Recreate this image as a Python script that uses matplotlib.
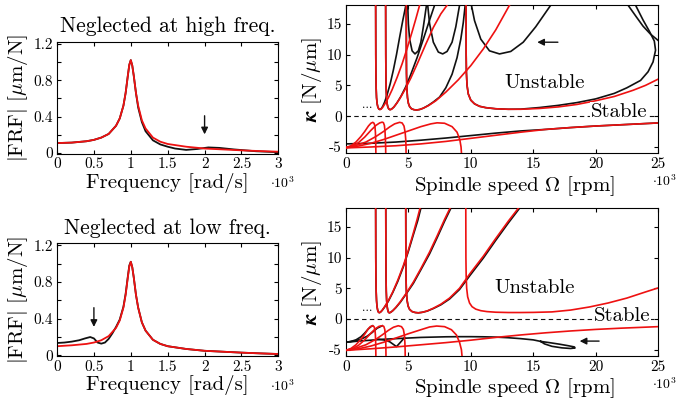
import numpy as np
import matplotlib
matplotlib.use('Agg')
import matplotlib.pyplot as plt

plt.rcParams['font.family'] = ['cmr10', 'DejaVu Serif']
plt.rcParams['mathtext.fontset'] = 'cm'
plt.rcParams['axes.unicode_minus'] = False
plt.rcParams['axes.formatter.use_mathtext'] = True

RED = '#ee1111'
BLK = '#111111'

# ---------------- FRF data (frequency in 1e3 rad/s, |FRF| in um/N) ----------------
frf_w = [0, 0.2, 0.4, 0.5, 0.6, 0.7, 0.8, 0.85, 0.9, 0.93, 0.96, 0.98, 1.0, 1.02,
         1.04, 1.07, 1.1, 1.15, 1.2, 1.3, 1.4, 1.5, 1.75, 2.0, 2.25, 2.5, 2.75, 3.0]
frf_hi_red = [0.11, 0.115, 0.13, 0.145, 0.17, 0.21, 0.30, 0.38, 0.52, 0.66, 0.85, 0.97,
              1.02, 0.96, 0.85, 0.66, 0.52, 0.36, 0.27, 0.17, 0.125, 0.10, 0.07, 0.05,
              0.04, 0.03, 0.022, 0.015]
frf_hi_blk_w = [0, 0.2, 0.4, 0.5, 0.6, 0.7, 0.8, 0.85, 0.9, 0.93, 0.96, 0.98, 1.0, 1.02,
                1.04, 1.07, 1.1, 1.15, 1.2, 1.3, 1.4, 1.5, 1.6, 1.75, 1.9, 2.05, 2.2,
                2.4, 2.7, 3.0]
frf_hi_blk = [0.11, 0.115, 0.13, 0.145, 0.17, 0.21, 0.30, 0.38, 0.52, 0.66, 0.85, 0.97,
              1.02, 0.96, 0.85, 0.66, 0.50, 0.34, 0.24, 0.14, 0.095, 0.07, 0.05, 0.035,
              0.045, 0.062, 0.057, 0.04, 0.02, 0.01]

frf_lo_red = [0.10, 0.11, 0.125, 0.14, 0.165, 0.21, 0.30, 0.38, 0.52, 0.66, 0.85, 0.97,
              1.02, 0.96, 0.85, 0.66, 0.52, 0.36, 0.27, 0.17, 0.125, 0.10, 0.07, 0.05,
              0.04, 0.03, 0.022, 0.015]
frf_lo_blk_w = [0, 0.1, 0.2, 0.3, 0.38, 0.45, 0.5, 0.55, 0.6, 0.65, 0.7, 0.75, 0.8, 0.85,
                0.9, 0.93, 0.96, 0.98, 1.0, 1.02, 1.04, 1.07, 1.1, 1.15, 1.2, 1.3, 1.4,
                1.5, 1.75, 2.0, 2.25, 2.5, 2.75, 3.0]
frf_lo_blk = [0.135, 0.14, 0.15, 0.165, 0.185, 0.20, 0.185, 0.14, 0.128, 0.14, 0.18, 0.24,
              0.31, 0.39, 0.53, 0.67, 0.86, 0.98, 1.02, 0.96, 0.85, 0.66, 0.52, 0.36,
              0.27, 0.17, 0.125, 0.10, 0.07, 0.05, 0.04, 0.03, 0.022, 0.015]

# ---------------- stability lobes, top (speed in 1e3 rpm, kappa in N/um) ----------------
t_r_up1 = ([2.38, 2.385, 2.39, 2.40, 2.42, 2.45, 2.50, 2.56, 2.64, 2.72, 2.82, 2.95, 3.15,
            3.4, 3.7, 4.1, 4.5, 4.9, 5.3, 5.6, 5.9],
           [18, 14, 10, 7, 4.5, 3.0, 2.0, 1.45, 1.15, 1.08, 1.15, 1.45, 2.1, 3.0, 4.3,
            6.3, 8.5, 11, 13.7, 15.8, 18])
t_r_up2 = ([3.18, 3.185, 3.19, 3.20, 3.22, 3.25, 3.30, 3.36, 3.44, 3.53, 3.65, 3.8, 4.0,
            4.3, 4.7, 5.2, 5.8, 6.4, 7.0, 7.6, 8.1],
           [18, 14, 10, 7, 4.5, 3.0, 2.0, 1.45, 1.15, 1.05, 1.12, 1.4, 1.9, 2.8, 4.2,
            6.2, 8.9, 11.7, 14.4, 16.6, 18])
t_r_up3 = ([4.83, 4.835, 4.84, 4.85, 4.88, 4.93, 5.0, 5.1, 5.25, 5.45, 5.66, 5.9, 6.2,
            6.6, 7.2, 8.0, 9.0, 10.0, 11.0, 12.0, 13.1],
           [18, 14, 10, 7, 4.5, 3.0, 2.1, 1.55, 1.2, 1.05, 1.0, 1.08, 1.3, 1.7, 2.5,
            3.9, 5.9, 8.2, 10.9, 14.0, 18])
t_r_up4 = ([9.62, 9.625, 9.63, 9.65, 9.7, 9.8, 10.0, 10.3, 10.7, 11.2, 12.0, 13.0, 14.0,
            15.5, 17.0, 18.5, 20.0, 21.5, 23.0, 24.0, 25.0],
           [18, 14, 10, 7, 5.0, 3.6, 2.6, 2.0, 1.6, 1.38, 1.2, 1.12, 1.12, 1.25, 1.5,
            1.9, 2.5, 3.2, 4.2, 5.0, 6.0])
t_r_lo1 = ([0, 0.4, 0.8, 1.2, 1.5, 1.8, 2.0, 2.15, 2.25, 2.32, 2.36, 2.38, 2.39, 2.40],
           [-5.1, -4.8, -4.2, -3.3, -2.5, -1.6, -1.15, -1.0, -1.15, -1.6, -2.6, -3.8, -5, -6.5])
t_r_lo2 = ([0, 0.5, 1.0, 1.5, 2.0, 2.4, 2.7, 2.9, 3.0, 3.08, 3.13, 3.16, 3.18, 3.19],
           [-5.1, -4.85, -4.3, -3.4, -2.3, -1.5, -1.1, -0.97, -1.05, -1.5, -2.5, -3.8, -5, -6.5])
t_r_lo3 = ([0, 0.8, 1.6, 2.4, 3.0, 3.5, 3.9, 4.3, 4.5, 4.65, 4.74, 4.79, 4.81, 4.82],
           [-5.1, -4.75, -4.2, -3.3, -2.5, -1.75, -1.25, -1.0, -1.1, -1.6, -2.6, -3.8, -5, -6.5])
t_r_lo4 = ([0, 1, 2, 3, 4, 5, 6, 6.8, 7.3, 7.9, 8.5, 8.9, 9.12, 9.22, 9.27],
           [-5.1, -4.85, -4.4, -3.8, -3.1, -2.4, -1.7, -1.25, -1.08, -1.15, -1.7, -2.6, -3.8, -5, -6.5])
t_r_long = ([0, 2, 4, 6, 8, 10, 12, 14, 16, 18, 20, 22, 25],
            [-5.15, -5.0, -4.8, -4.5, -4.1, -3.6, -3.1, -2.6, -2.15, -1.85, -1.6, -1.4, -1.1])

t_b_long = ([0, 2, 4, 6, 8, 10, 12, 14, 16, 18, 20, 22, 25],
            [-4.5, -4.4, -4.2, -3.9, -3.55, -3.15, -2.75, -2.4, -2.15, -1.85, -1.6, -1.4, -1.1])
t_b_up1 = ([2.38, 2.385, 2.39, 2.40, 2.42, 2.45, 2.50, 2.56, 2.64, 2.72, 2.82, 2.95, 3.1,
            3.3, 3.55, 3.8, 4.05, 4.3, 4.55, 4.8],
           [18, 14, 10, 7, 4.5, 3.0, 2.0, 1.45, 1.15, 1.08, 1.2, 1.6, 2.3, 3.5, 5.3, 7.5,
            10, 12.8, 15.5, 18])
t_b_up2 = ([3.18, 3.185, 3.19, 3.20, 3.22, 3.25, 3.30, 3.36, 3.44, 3.53, 3.65, 3.85, 4.1,
            4.4, 4.8, 5.2, 5.7, 6.2, 6.7, 7.1],
           [18, 14, 10, 7, 4.5, 3.0, 2.0, 1.45, 1.15, 1.05, 1.15, 1.5, 2.2, 3.2, 4.8, 6.8,
            9.5, 12.5, 15.6, 18])
t_b_up3 = ([4.83, 4.835, 4.84, 4.85, 4.88, 4.93, 5.0, 5.1, 5.25, 5.45, 5.66, 5.9, 6.2,
            6.6, 7.0, 7.5, 8.0, 8.5, 8.9, 9.2, 9.4, 9.55],
           [18, 14, 10, 7, 4.5, 3.0, 2.1, 1.55, 1.2, 1.05, 1.0, 1.08, 1.3, 1.75, 2.3,
            3.1, 4.6, 6.8, 9.5, 12.5, 15.2, 18])
t_b_up4 = ([9.62, 9.625, 9.63, 9.65, 9.7, 9.8, 10.0, 10.3, 10.7, 11.2, 12.0, 13.0, 14.0,
            15.5, 17.0, 18.5, 20.0, 21.5, 22.5, 23.6, 24.2, 24.6, 24.8, 24.7, 24.3, 23.8, 23.2],
           [18, 14, 10, 7, 5.0, 3.6, 2.6, 2.0, 1.6, 1.38, 1.2, 1.12, 1.14, 1.4, 1.75,
            2.2, 2.8, 3.7, 4.6, 5.8, 7.2, 8.8, 10.7, 12.2, 13.8, 15.6, 18])
t_b_ext = ([22.6, 23.3, 23.8, 24.4, 25.0], [18, 16, 14.6, 13.3, 12.3])
t_b_u1 = ([4.95, 5.0, 5.1, 5.3, 5.53, 5.8, 6.0, 6.2, 6.45],
          [18, 15, 12.5, 10.6, 10.1, 10.6, 12, 14.5, 18])
t_b_u2 = ([6.55, 6.7, 7.0, 7.4, 7.75, 8.1, 8.5, 8.8, 9.1],
          [18, 15, 12, 10.4, 10.1, 10.5, 12, 14.5, 18])
t_b_u3 = ([10.05, 10.3, 10.8, 11.5, 12.3, 13.2, 14.2, 15.2, 16.4],
          [18, 15.5, 12.5, 10.6, 10.1, 10.5, 12, 14.5, 18])

# ---------------- stability lobes, bottom ----------------
b_r_up1 = ([2.38, 2.385, 2.39, 2.40, 2.42, 2.45, 2.49, 2.54, 2.60, 2.67, 2.76, 2.9, 3.1,
            3.4, 3.75, 4.15, 4.6, 5.0, 5.4, 5.7, 5.93],
           [18, 14, 10, 7, 4.5, 3.0, 2.0, 1.45, 1.12, 1.02, 1.1, 1.4, 2.0, 3.0, 4.4,
            6.3, 8.7, 11.2, 14.0, 16.2, 18])
b_r_up2 = ([3.19, 3.195, 3.2, 3.21, 3.23, 3.26, 3.30, 3.35, 3.40, 3.47, 3.58, 3.75, 4.0,
            4.35, 4.8, 5.4, 6.0, 6.7, 7.3, 7.9, 8.33],
           [18, 14, 10, 7, 4.5, 3.0, 2.0, 1.45, 1.12, 1.0, 1.08, 1.35, 1.9, 2.8, 4.1,
            6.0, 8.2, 10.9, 13.5, 16.2, 18])
b_r_up3 = ([4.79, 4.795, 4.8, 4.81, 4.84, 4.9, 4.98, 5.1, 5.3, 5.55, 5.8, 6.1, 6.5, 7.0,
            7.6, 8.3, 9.1, 9.94, 11.0, 12.0, 13.0, 13.8],
           [18, 14, 10, 7, 4.5, 3.0, 2.1, 1.55, 1.2, 1.05, 1.0, 1.08, 1.3, 1.75, 2.4,
            3.4, 5.0, 7.4, 10.2, 13.1, 15.9, 18])
b_r_up4 = ([9.6, 9.605, 9.61, 9.63, 9.67, 9.75, 9.9, 10.1, 10.4, 10.8, 11.3, 12, 13, 14,
            15, 16.5, 18, 19.5, 21, 22.5, 24, 25],
           [18, 14, 10, 7, 5, 3.6, 2.6, 2.0, 1.6, 1.35, 1.2, 1.1, 1.05, 1.05, 1.07,
            1.15, 1.45, 1.95, 2.6, 3.4, 4.4, 5.05])
b_r_lo1 = ([0, 0.4, 0.8, 1.2, 1.5, 1.75, 1.95, 2.14, 2.25, 2.32, 2.36, 2.38, 2.39, 2.40],
           [-5.1, -4.8, -4.2, -3.3, -2.5, -1.7, -1.25, -1.1, -1.25, -1.7, -2.6, -3.8, -5, -6.5])
b_r_lo2 = ([0, 0.5, 1.0, 1.5, 2.0, 2.35, 2.65, 2.91, 3.03, 3.11, 3.16, 3.19, 3.20, 3.21],
           [-5.1, -4.85, -4.3, -3.4, -2.3, -1.6, -1.2, -1.1, -1.2, -1.7, -2.6, -3.8, -5, -6.5])
b_r_lo3 = ([0, 0.8, 1.6, 2.4, 2.9, 3.4, 3.8, 4.19, 4.45, 4.6, 4.68, 4.72, 4.74, 4.75],
           [-5.1, -4.75, -4.2, -3.3, -2.6, -1.85, -1.35, -1.1, -1.25, -1.7, -2.6, -3.8, -5, -6.5])
b_r_lo4 = ([0, 1, 2, 3, 4, 5, 6, 6.7, 7.27, 7.9, 8.45, 8.85, 9.1, 9.25, 9.32],
           [-5.1, -4.85, -4.4, -3.8, -3.1, -2.4, -1.75, -1.3, -1.15, -1.25, -1.75, -2.6, -3.8, -5, -6.5])
b_r_long = ([0, 2, 4, 6, 8, 10, 12, 14, 16, 18, 20, 22, 25],
            [-5.1, -4.85, -4.55, -4.2, -3.85, -3.45, -3.0, -2.6, -2.25, -1.95, -1.7, -1.5, -1.25])

b_b_up1 = ([2.38, 2.385, 2.39, 2.40, 2.42, 2.45, 2.49, 2.54, 2.60, 2.67, 2.76, 2.9, 3.1,
            3.4, 3.75, 4.15, 4.6, 5.0, 5.4, 5.75, 6.0],
           [18, 14, 10, 7, 4.5, 3.0, 2.0, 1.45, 1.12, 1.02, 1.1, 1.4, 1.95, 2.9, 4.3,
            6.1, 8.5, 11.0, 13.7, 16.0, 18])
b_b_up2 = ([3.19, 3.195, 3.2, 3.21, 3.23, 3.26, 3.30, 3.35, 3.40, 3.47, 3.58, 3.75, 4.0,
            4.35, 4.8, 5.4, 6.0, 6.7, 7.3, 7.9, 8.4],
           [18, 14, 10, 7, 4.5, 3.0, 2.0, 1.45, 1.12, 1.0, 1.08, 1.35, 1.85, 2.7, 4.0,
            5.8, 8.0, 10.6, 13.2, 15.9, 18])
b_b_up3 = ([4.79, 4.795, 4.8, 4.81, 4.84, 4.9, 4.98, 5.1, 5.3, 5.55, 5.8, 6.1, 6.5, 7.0,
            7.6, 8.3, 9.1, 9.94, 11.0, 12.0, 13.0, 13.9],
           [18, 14, 10, 7, 4.5, 3.0, 2.1, 1.55, 1.2, 1.05, 1.0, 1.08, 1.28, 1.7, 2.3,
            3.25, 4.8, 7.1, 9.9, 12.8, 15.6, 18])
b_b_main = ([0, 0.5, 1, 2, 3, 4, 5, 6, 7, 8, 9, 10, 11, 12, 13, 14, 15, 15.6],
            [-3.8, -3.7, -3.6, -3.45, -3.3, -3.2, -3.1, -3.0, -2.95, -2.9, -2.88, -2.88,
             -2.9, -2.95, -3.05, -3.2, -3.4, -3.65])
b_b_loop = ([15.6, 16.3, 17.1, 17.8, 18.3, 18.35, 18.0, 17.3, 16.5, 15.9, 15.6],
            [-3.65, -3.85, -4.1, -4.35, -4.55, -4.72, -4.8, -4.7, -4.45, -4.05, -3.65])
b_b_h1 = ([0, 0.4, 0.8, 1.2, 1.5, 1.8, 2.0, 2.14],
          [-3.8, -3.65, -3.4, -2.9, -2.3, -1.6, -1.25, -1.1])
b_b_h2 = ([0, 0.6, 1.2, 1.7, 2.1, 2.5, 2.91],
          [-3.8, -3.6, -3.3, -2.8, -2.2, -1.5, -1.1])
b_b_v = ([2.6, 3.0, 3.5, 4.05, 4.45, 4.7],
         [-3.3, -3.4, -3.7, -4.5, -3.6, -3.0])

LAB = 15


def style_frf(ax):
    ax.set_xlim(0, 3)
    ax.set_ylim(-0.005, 1.22)
    ax.set_xticks([0, 0.5, 1, 1.5, 2, 2.5, 3])
    ax.set_xticklabels(['0', '0.5', '1', '1.5', '2', '2.5', '3'])
    ax.set_yticks([0, 0.2, 0.4, 0.6, 0.8, 1.0, 1.2])
    ax.set_yticklabels(['0', '', '0.4', '', '0.8', '', '1.2'])
    ax.tick_params(direction='in', top=True, right=True, labelsize=11, length=3, pad=3)
    ax.set_xlabel('Frequency [rad/s]', fontsize=LAB, labelpad=1)
    ax.set_ylabel(r'$|$FRF$|$ [$\mu$m/N]', fontsize=LAB, labelpad=2)
    ax.text(1.02, -0.27, r'$\cdot 10^3$', transform=ax.transAxes, fontsize=10,
            ha='center', va='center')


def style_sld(ax):
    ax.set_xlim(0, 25)
    ax.set_ylim(-6, 18)
    ax.set_xticks([0, 5, 10, 15, 20, 25])
    ax.set_xticklabels(['0', '5', '10', '15', '20', '25'])
    ax.set_yticks([-5, 0, 5, 10, 15])
    ax.set_yticklabels(['-5', '0', '5', '10', '15'])
    ax.tick_params(direction='in', top=True, right=True, labelsize=11, length=3, pad=3)
    ax.set_xlabel(r'Spindle speed $\boldsymbol{\Omega}$ [rpm]', fontsize=LAB, labelpad=1)
    ax.xaxis.set_label_coords(0.54, -0.14)
    ax.set_ylabel(r'$\boldsymbol{\kappa}$ [N/$\mu$m]', fontsize=LAB, labelpad=2)
    ax.axhline(0, color=BLK, lw=0.8, ls=(0, (4, 3)), zorder=1)
    ax.text(1.02, -0.19, r'$\cdot 10^3$', transform=ax.transAxes, fontsize=10,
            ha='center', va='center')
    ax.text(1.7, 1.3, '...', fontsize=9, ha='center', va='baseline')


fig = plt.figure(figsize=(6.77, 4.03), dpi=100)
ax_tl = fig.add_axes([0.0842, 0.619, 0.327, 0.277])
ax_bl = fig.add_axes([0.0842, 0.117, 0.327, 0.279])
ax_tr = fig.add_axes([0.511, 0.620, 0.461, 0.367])
ax_br = fig.add_axes([0.511, 0.117, 0.461, 0.366])

# FRF, neglected at high freq.
ax_tl.plot(frf_hi_blk_w, frf_hi_blk, color=BLK, lw=1.3)
ax_tl.plot(frf_w, frf_hi_red, color=RED, lw=1.3)
style_frf(ax_tl)
ax_tl.set_title('Neglected at high freq.', fontsize=15.5, pad=7)
ax_tl.annotate('', xy=(2.0, 0.175), xytext=(2.0, 0.44),
               arrowprops=dict(arrowstyle='-|>', color=BLK, lw=1.0, mutation_scale=10))

# FRF, neglected at low freq.
ax_bl.plot(frf_lo_blk_w, frf_lo_blk, color=BLK, lw=1.3)
ax_bl.plot(frf_w, frf_lo_red, color=RED, lw=1.3)
style_frf(ax_bl)
ax_bl.set_title('Neglected at low freq.', fontsize=15.5, pad=7)
ax_bl.annotate('', xy=(0.5, 0.28), xytext=(0.5, 0.55),
               arrowprops=dict(arrowstyle='-|>', color=BLK, lw=1.0, mutation_scale=10))

# stability, top
for xs, ys in [t_b_long, t_b_up1, t_b_up2, t_b_up3, t_b_up4, t_b_ext, t_b_u1, t_b_u2, t_b_u3]:
    ax_tr.plot(xs, ys, color=BLK, lw=1.2, zorder=2)
for xs, ys in [t_r_up1, t_r_up2, t_r_up3, t_r_up4, t_r_lo1, t_r_lo2, t_r_lo3, t_r_lo4, t_r_long]:
    ax_tr.plot(xs, ys, color=RED, lw=1.2, zorder=3)
style_sld(ax_tr)
ax_tr.text(15.9, 5.3, 'Unstable', fontsize=LAB, ha='center', va='center')
ax_tr.text(21.9, 0.7, 'Stable', fontsize=LAB, ha='center', va='center',
           bbox=dict(fc='white', ec='none', pad=0.5), zorder=4)
ax_tr.annotate('', xy=(15.1, 12.0), xytext=(17.2, 12.0),
               arrowprops=dict(arrowstyle='-|>', color=BLK, lw=1.0, mutation_scale=10))

# stability, bottom
for xs, ys in [b_b_main, b_b_loop, b_b_h1, b_b_h2, b_b_v, b_b_up1, b_b_up2, b_b_up3]:
    ax_br.plot(xs, ys, color=BLK, lw=1.2, zorder=2)
for xs, ys in [b_r_up1, b_r_up2, b_r_up3, b_r_up4, b_r_lo1, b_r_lo2, b_r_lo3, b_r_lo4, b_r_long]:
    ax_br.plot(xs, ys, color=RED, lw=1.2, zorder=3)
style_sld(ax_br)
ax_br.text(15.1, 5.0, 'Unstable', fontsize=LAB, ha='center', va='center')
ax_br.text(22.1, 0.4, 'Stable', fontsize=LAB, ha='center', va='center',
           bbox=dict(fc='white', ec='none', pad=0.5), zorder=4)
ax_br.annotate('', xy=(18.5, -3.6), xytext=(20.5, -3.6),
               arrowprops=dict(arrowstyle='-|>', color=BLK, lw=1.0, mutation_scale=10))

fig.savefig('out.png', dpi=100)
